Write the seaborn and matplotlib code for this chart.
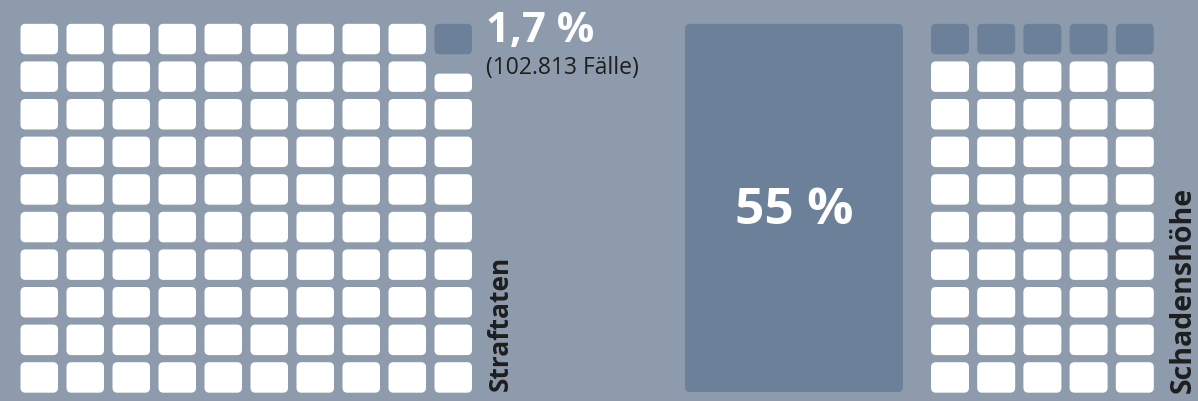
import matplotlib
matplotlib.use("Agg")
import matplotlib.pyplot as plt
from matplotlib.patches import FancyBboxPatch
import seaborn as sns

# ---- data ----
left_rows, left_cols = 10, 10
left_dark_cells = 1          # full dark cells (1,7 %)
left_partial_fraction = 0.6  # remaining height of the partial white cell
right_rows, right_cols = 10, 5
right_dark_cells = 5
share_label = "1,7 %"
cases_label = "(102.813 Fälle)"
big_label = "55 %"
left_title = "Straftaten"
right_title = "Schadenshöhe"

# ---- style ----
BG = "#8d9bac"
DARK = "#6c8199"
WHITE = "#ffffff"
TXT = "#1e1e1e"

sns.set_theme(style="white")
plt.rcParams["font.family"] = ["Open Sans", "DejaVu Sans"]

fig = plt.figure(figsize=(11.98, 4.01), dpi=100, facecolor=BG)
ax = fig.add_axes([0, 0, 1, 1])
ax.set_facecolor(BG)
ax.set_xlim(0, 1198)
ax.set_ylim(401, 0)
ax.axis("off")

cw, ch = 37.5, 30.5
px, py = 46.0, 37.6
top = 23.8


def cell(x, y, w, h, color):
    ax.add_patch(FancyBboxPatch((x, y), w, h,
                                boxstyle="round,pad=0,rounding_size=5",
                                fc=color, ec="none"))


# left waffle
x0 = 20.5
for c in range(left_cols):
    for r in range(left_rows):
        x = x0 + c * px
        y = top + r * py
        color = WHITE
        h = ch
        yy = y
        if c == left_cols - 1:
            idx = r
            if idx < left_dark_cells:
                color = DARK
            elif idx == left_dark_cells:
                h = ch * left_partial_fraction
                yy = y + ch - h
        cell(x, yy, cw, h, color)

# big block
ax.add_patch(FancyBboxPatch((685, top), 218, 392 - top,
                            boxstyle="round,pad=0,rounding_size=5",
                            fc=DARK, ec="none"))
ax.text(794, 211, big_label, color=WHITE, fontsize=37, fontweight="bold",
        ha="center", va="center")

# right waffle
x1 = 931
for c in range(right_cols):
    for r in range(right_rows):
        idx = r * right_cols + c
        color = DARK if idx < right_dark_cells else WHITE
        cell(x1 + c * 46.2, top + r * py, 38, ch, color)

ax.text(486, 42, share_label, color=WHITE, fontsize=30, fontweight="bold",
        ha="left", va="baseline")
ax.text(486, 74, cases_label, color=TXT, fontsize=16.5,
        ha="left", va="baseline")

ax.text(500, 391, left_title, color=TXT, fontsize=19, fontweight="bold",
        rotation=90, ha="center", va="bottom")
ax.text(1183, 393, right_title, color=TXT, fontsize=20.5, fontweight="bold",
        rotation=90, ha="center", va="bottom")

fig.savefig("out.png", dpi=100, facecolor=BG)
